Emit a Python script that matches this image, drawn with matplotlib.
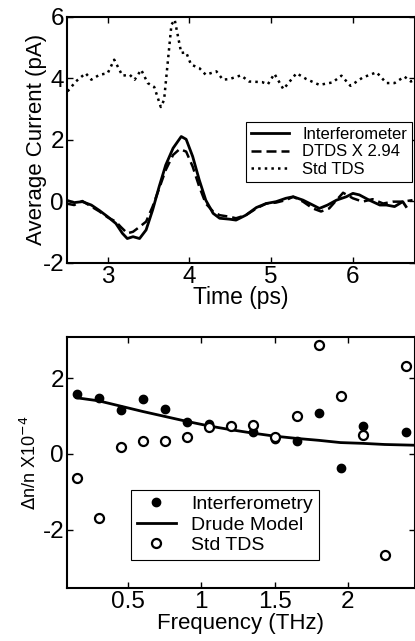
import matplotlib
matplotlib.use("Agg")
import matplotlib.pyplot as plt
import numpy as np

plt.rcParams['font.family'] = ['Liberation Sans', 'DejaVu Sans']
plt.rcParams['axes.unicode_minus'] = False

# ---- top panel data ----
t_std = [2.51, 2.61, 2.73, 2.80, 2.90, 3.00, 3.08, 3.18, 3.27, 3.33, 3.41, 3.49, 3.57,
         3.65, 3.69, 3.73, 3.78, 3.82, 3.86, 3.90, 3.96, 4.02, 4.12, 4.20, 4.33, 4.41,
         4.49, 4.63, 4.73, 4.89, 4.96, 5.04, 5.15, 5.31, 5.43, 5.59, 5.75, 5.86, 5.97,
         6.12, 6.29, 6.41, 6.51, 6.63, 6.71, 6.76]
v_std = [3.58, 3.90, 4.17, 3.96, 4.12, 4.17, 4.61, 4.09, 4.12, 3.96, 4.28, 3.85, 3.72,
         3.07, 3.30, 4.39, 5.75, 5.91, 5.37, 4.83, 4.85, 4.45, 4.34, 4.12, 4.23, 3.96,
         3.98, 4.10, 3.90, 3.88, 3.81, 4.15, 3.65, 4.17, 3.98, 3.79, 3.87, 4.09, 3.76,
         4.03, 4.20, 3.85, 3.85, 4.06, 3.90, 3.96]

t_int = [2.49, 2.59, 2.69, 2.80, 2.90, 3.00, 3.10, 3.18, 3.24, 3.31, 3.39, 3.47, 3.55,
         3.63, 3.71, 3.80, 3.90, 3.96, 4.04, 4.12, 4.20, 4.29, 4.37, 4.49, 4.57, 4.69,
         4.82, 4.94, 5.06, 5.18, 5.27, 5.39, 5.51, 5.59, 5.69, 5.80, 5.92, 6.00, 6.08,
         6.20, 6.33, 6.41, 6.51, 6.61, 6.65]
v_int = [0.04, -0.04, -0.01, -0.12, -0.30, -0.50, -0.72, -1.04, -1.21, -1.15, -1.21, -0.93,
         -0.28, 0.48, 1.18, 1.73, 2.11, 2.02, 1.46, 0.70, 0.04, -0.39, -0.55, -0.58, -0.61,
         -0.45, -0.20, -0.07, -0.01, 0.10, 0.15, 0.04, -0.12, -0.23, -0.12, 0.04, 0.15,
         0.26, 0.21, 0.04, -0.12, -0.12, -0.17, -0.01, -0.17]

t_dtds = [2.49, 2.59, 2.69, 2.80, 2.90, 3.00, 3.10, 3.16, 3.24, 3.31, 3.39, 3.47, 3.55,
          3.63, 3.71, 3.80, 3.88, 3.96, 4.04, 4.12, 4.20, 4.29, 4.37, 4.49, 4.57, 4.69,
          4.82, 4.94, 5.06, 5.18, 5.27, 5.39, 5.51, 5.61, 5.71, 5.80, 5.88, 6.00, 6.12,
          6.24, 6.37, 6.49, 6.61, 6.73]
v_dtds = [-0.07, -0.12, 0.01, -0.17, -0.33, -0.52, -0.66, -0.83, -1.04, -0.99, -0.83, -0.66,
          -0.17, 0.42, 1.02, 1.51, 1.70, 1.62, 1.13, 0.48, -0.07, -0.33, -0.45, -0.50, -0.55,
          -0.45, -0.23, -0.07, -0.04, 0.04, 0.15, -0.01, -0.23, -0.33, -0.23, 0.04, 0.28,
          0.10, -0.01, 0.07, -0.07, -0.01, -0.01, 0.04]

top_xticks = [3, 4, 5, 6]
top_yticks = [-2, 0, 2, 4, 6]

# ---- bottom panel data ----
freq = [0.15, 0.30, 0.45, 0.60, 0.75, 0.90, 1.05, 1.20, 1.35, 1.50, 1.65, 1.80, 1.95, 2.10, 2.40]
interf = [1.59, 1.47, 1.16, 1.45, 1.18, 0.83, 0.79, 0.74, 0.59, 0.39, 0.33, 1.07, -0.36, 0.74, 0.59]

freq_std = [0.15, 0.30, 0.45, 0.60, 0.75, 0.90, 1.05, 1.20, 1.35, 1.50, 1.65, 1.80, 1.95, 2.10, 2.25, 2.40]
std_tds = [-0.64, -1.68, 0.18, 0.33, 0.33, 0.46, 0.72, 0.74, 0.77, 0.46, 0.99, 2.88, 1.53, 0.50, -2.65, 2.31]

freq_drude = [0.15, 0.30, 0.45, 0.60, 0.75, 0.90, 1.05, 1.20, 1.35, 1.50, 1.65, 1.80, 1.95, 2.10, 2.25, 2.46]
drude = [1.48, 1.40, 1.26, 1.12, 0.99, 0.86, 0.74, 0.64, 0.55, 0.47, 0.41, 0.36, 0.30, 0.28, 0.25, 0.23]

bot_xticks = [0.5, 1, 1.5, 2]
bot_xticklabels = ['0.5', '1', '1.5', '2']
bot_yticks = [-2, 0, 2]

fig = plt.figure(figsize=(4.15, 6.41), dpi=100)

ax1 = fig.add_axes([0.161, 0.590, 0.839, 0.3835])
ax1.plot(t_int, v_int, '-', color='black', lw=2.0, label='Interferometer')
ax1.plot(t_dtds, v_dtds, '--', color='black', lw=1.8, dashes=(4, 2), label='DTDS X 2.94')
ax1.plot(t_std, v_std, ':', color='black', lw=1.8, label='Std TDS')
ax1.set_xlim(2.5, 6.76)
ax1.set_ylim(-2, 6)
ax1.set_xticks(top_xticks)
ax1.set_yticks(top_yticks)
ax1.set_xlabel('Time (ps)', fontsize=16.5, labelpad=-1)
ax1.set_ylabel('Average Current (pA)', fontsize=16, labelpad=-3)
leg1 = ax1.legend(loc='lower left', bbox_to_anchor=(0.514, 0.329), fontsize=12,
                  frameon=True, fancybox=False, edgecolor='black', framealpha=1,
                  handlelength=2.3, borderpad=0.3, labelspacing=0.15, handletextpad=0.8,
                  borderaxespad=0)
leg1.get_frame().set_linewidth(0.8)

ax2 = fig.add_axes([0.161, 0.0827, 0.839, 0.3915])
ax2.plot(freq_drude, drude, '-', color='black', lw=2.0, label='Drude Model', zorder=2)
ax2.plot(freq, interf, 'o', color='black', ms=6, label='Interferometry', zorder=3)
ax2.plot(freq_std, std_tds, 'o', mfc='white', mec='black', mew=1.6, ms=6.5,
         label='Std TDS', zorder=4)
ax2.set_xlim(0.083, 2.458)
ax2.set_ylim(-3.53, 3.08)
ax2.set_xticks(bot_xticks)
ax2.set_xticklabels(bot_xticklabels)
ax2.set_yticks(bot_yticks)
ax2.set_xlabel('Frequency (THz)', fontsize=16, labelpad=0)
ax2.set_ylabel(r'$\Delta$n/n X10$^{-4}$', fontsize=13, labelpad=2)
h, l = ax2.get_legend_handles_labels()
order = [1, 0, 2]
leg2 = ax2.legend([h[i] for i in order], [l[i] for i in order], loc='lower left',
                  bbox_to_anchor=(0.184, 0.112), fontsize=14, frameon=True, fancybox=False,
                  edgecolor='black', framealpha=1, handlelength=2.0, borderpad=0.3,
                  labelspacing=0.15, handletextpad=0.8, borderaxespad=0)
leg2.get_frame().set_linewidth(0.8)

for ax in (ax1, ax2):
    ax.tick_params(direction='in', length=4, width=1, top=True, right=True,
                   labelsize=17.5, pad=2)
    for s in ax.spines.values():
        s.set_linewidth(1.5)

fig.savefig('out.png', dpi=100)
